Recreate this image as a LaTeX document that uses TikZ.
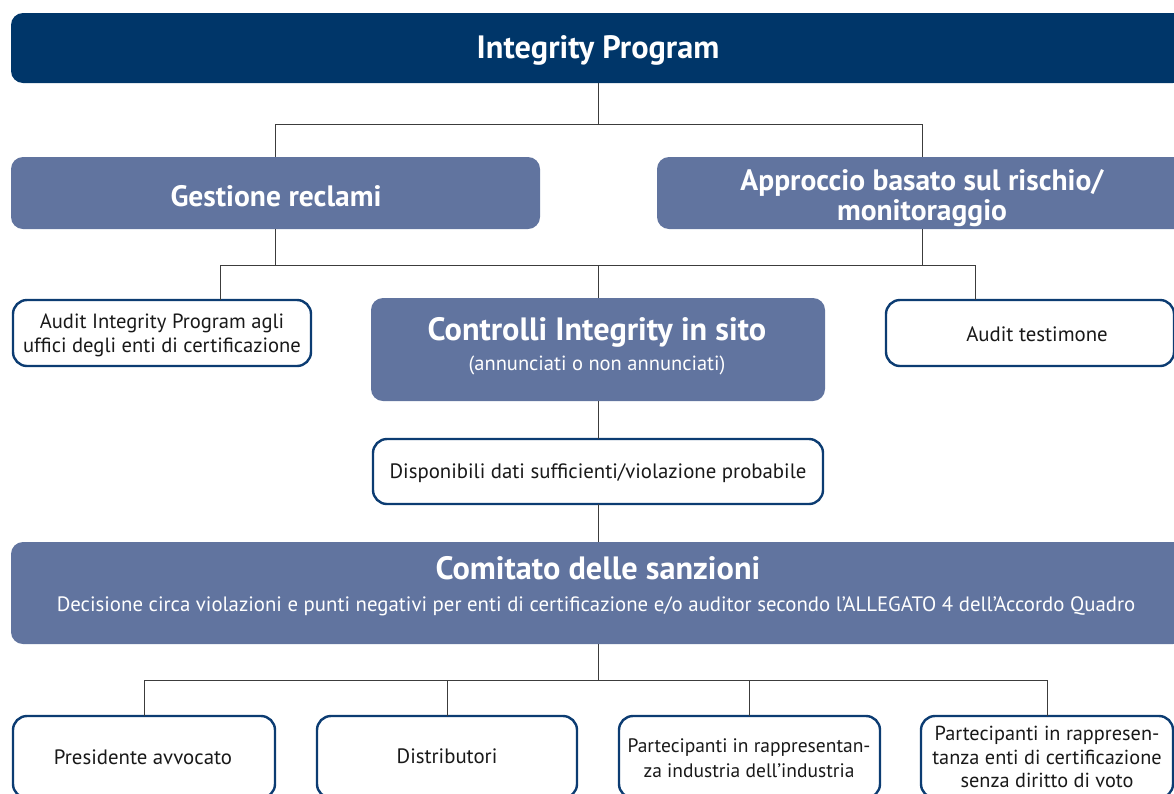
\documentclass[tikz,border=0pt]{standalone}
\usepackage{fontspec}
\setmainfont{PT Sans}
\definecolor{navy}{RGB}{0,54,105}
\definecolor{midblue}{RGB}{97,116,159}
\definecolor{bordernavy}{RGB}{12,60,114}
\definecolor{connc}{RGB}{60,60,60}
\begin{document}
\begin{tikzpicture}[x=1pt,y=-1pt,
  darkbox/.style={fill=navy, rounded corners=12pt, draw=none, inner sep=0pt, outer sep=0pt, anchor=north west},
  midbox/.style={fill=midblue, rounded corners=12pt, draw=none, inner sep=0pt, outer sep=0pt, anchor=north west},
  whitebox/.style={fill=white, draw=bordernavy, line width=2.4pt, rounded corners=14pt, inner sep=0pt, outer sep=0pt, anchor=north west},
  conn/.style={draw=connc, line width=0.9pt},
  wtitle/.style={text=white, font=\fontsize{32.3}{36}\selectfont\bfseries, align=center, inner sep=0pt},
  wsub/.style={text=white, font=\fontsize{29.5}{30}\selectfont\bfseries, align=center, inner sep=0pt},
  btxt/.style={text=black!90, font=\fontsize{20.8}{24}\selectfont, align=center, inner sep=0pt},
]
\useasboundingbox (0,0) rectangle (1174,793);
\clip (0,0) rectangle (1174,793);

% boxes
\node[darkbox, minimum width=1174pt, minimum height=70pt] (top) at (11,13) {};
\node[midbox, minimum width=529pt, minimum height=72pt] (gest) at (11,157) {};
\node[midbox, minimum width=530pt, minimum height=72pt] (appr) at (657,157) {};
\node[whitebox, minimum width=298pt, minimum height=66pt] (aud) at (13,300) {};
\node[midbox, minimum width=454pt, minimum height=103pt] (ctrl) at (371,298) {};
\node[whitebox, minimum width=288pt, minimum height=66pt] (wit) at (886,300) {};
\node[whitebox, minimum width=450pt, minimum height=65pt] (disp) at (373,439) {};
\node[midbox, minimum width=1174pt, minimum height=102pt] (com) at (11,542) {};
\node[whitebox, minimum width=262pt, minimum height=82pt] (b1) at (13,716) {};
\node[whitebox, minimum width=260pt, minimum height=82pt] (b2) at (317,716) {};
\node[whitebox, minimum width=261pt, minimum height=82pt] (b3) at (619,716) {};
\node[whitebox, minimum width=252pt, minimum height=82pt] (b4) at (921,716) {};

% texts
\node[wtitle] (ttop) at (598,50) {Integrity Program};
\node[wsub] (tgest) at (276,196) {Gestione reclami};
\node[wsub] (tappr) at (922,198) {Approccio basato sul rischio/\\monitoraggio};
\node[btxt, font=\fontsize{20.6}{24}\selectfont] (taud) at (162,335) {Audit Integrity Program agli\\uffici degli enti di certificazione};
\node[wtitle] (tctrl) at (597,332) {Controlli Integrity in sito};
\node[text=white, font=\fontsize{20.5}{24}\selectfont, inner sep=0pt] (tctrl2) at (597,365) {(annunciati o non annunciati)};
\node[btxt] (twit) at (1037,334) {Audit testimone};
\node[btxt] (tdisp) at (598,473) {Disponibili dati sufficienti/violazione probabile};
\node[wtitle] (tcom) at (598,568) {Comitato delle sanzioni};
\node[text=white, font=\fontsize{20.8}{24}\selectfont, inner sep=0pt] (tcom2) at (596,606) {Decisione circa violazioni e punti negativi per enti di certificazione e/o auditor secondo l’ALLEGATO 4 dell’Accordo Quadro};
\node[btxt] (tb1) at (143,757) {Presidente avvocato};
\node[btxt] (tb2) at (447,756) {Distributori};
\node[btxt, font=\fontsize{19.5}{25}\selectfont] (tb3) at (749,758) {Partecipanti in rappresentan-\\za industria dell’industria};
\node[btxt, font=\fontsize{20.3}{23.5}\selectfont] (tb4) at (1047,757) {Partecipanti in rappresen-\\tanza enti di certificazione\\senza diritto di voto};

% connector levels
\coordinate (h1) at (0,124);
\coordinate (h2) at (0,265);
\coordinate (h3) at (0,680);
\coordinate (c1) at (220,265);
\coordinate (c2) at (975,265);

\draw[conn] (top.south) -- (top.south |- h1);
\draw[conn] (gest.north) -- (gest.north |- h1) -- (appr.north |- h1) -- (appr.north);

\draw[conn] (gest.south) -- (gest.south |- h2);
\draw[conn] (appr.south) -- (appr.south |- h2);
\draw[conn] (c1 |- aud.north) -- (c1) -- (c2) -- (c2 |- wit.north);
\draw[conn] (ctrl.north |- h2) -- (ctrl.north);

\draw[conn] (ctrl.south) -- (ctrl.south |- disp.north);
\draw[conn] (disp.south) -- (disp.south |- com.north);

\draw[conn] (com.south) -- (com.south |- h3);
\draw[conn] (b1.north) -- (b1.north |- h3) -- (b4.north |- h3) -- (b4.north);
\draw[conn] (b2.north |- h3) -- (b2.north);
\draw[conn] (b3.north |- h3) -- (b3.north);
\end{tikzpicture}
\end{document}
